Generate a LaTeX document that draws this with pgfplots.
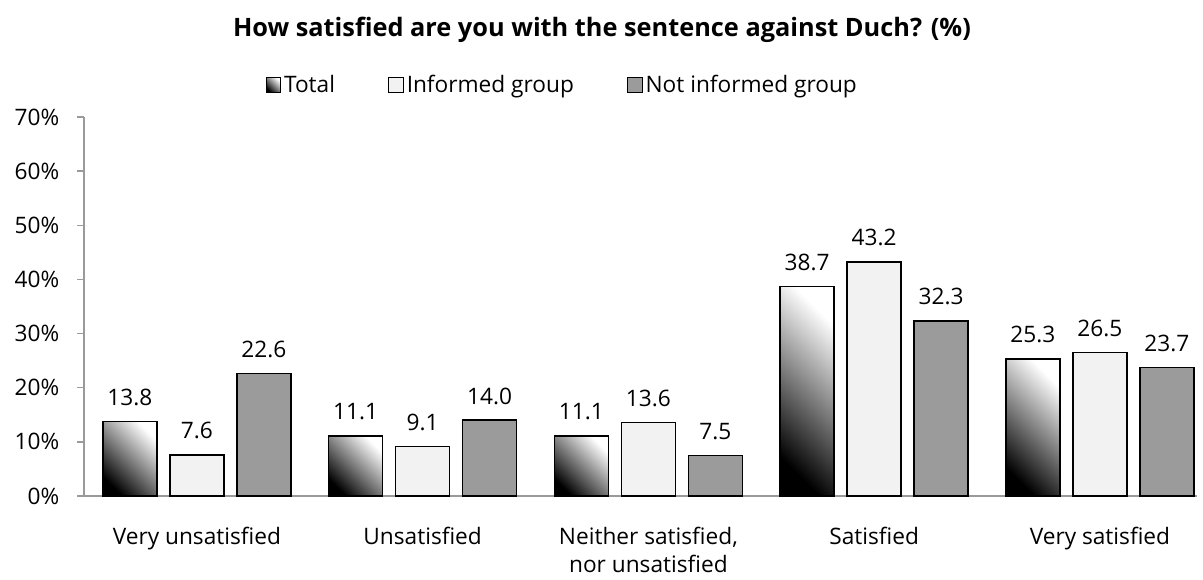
\documentclass[border=0pt]{standalone}
\usepackage{pgfplots}
\pgfplotsset{compat=1.18}
\usepackage{fontspec}
\setmainfont{Open Sans}
\definecolor{axgray}{HTML}{9A9A9A}
\definecolor{infcol}{HTML}{F2F2F2}
\definecolor{notcol}{HTML}{9B9B9B}
\begin{document}
\begin{tikzpicture}
\useasboundingbox (-63pt,-63pt) rectangle (839.25pt,372pt);
\begin{axis}[
  at={(0pt,0pt)}, anchor=south west,
  scale only axis, width=834.75pt, height=284.25pt,
  xmin=-0.5, xmax=4.43, ymin=0, ymax=70,
  axis lines*=left,
  axis line style={axgray, line width=1.1pt},
  every tick/.style={axgray, line width=1.1pt},
  tick align=outside,
  ytick={0,10,...,70},
  yticklabel={\pgfmathprintnumber{\tick}\%},
  major tick length=5pt,
  xtick={0,1,2,3,4},
  xticklabels={Very unsatisfied, Unsatisfied, {Neither satisfied,\\ nor unsatisfied}, Satisfied, Very satisfied},
  x tick style={draw=none},
  extra x ticks={-0.5,0.5,1.5,2.5,3.5},
  extra x tick labels={},
  extra x tick style={major tick length=6.5pt, tick style={axgray, line width=1.1pt}},
  xticklabel style={font=\fontsize{17pt}{21pt}\selectfont, align=center, yshift=-15pt, text depth=0pt},
  yticklabel style={font=\fontsize{17pt}{20pt}\selectfont, xshift=-10pt},
  /pgf/number format/assume math mode=true,
  ybar, bar width=40.5pt,
  nodes near coords,
  nodes near coords style={font=\fontsize{17pt}{20pt}\selectfont, yshift=8pt,
    /pgf/number format/fixed, /pgf/number format/fixed zerofill, /pgf/number format/precision=1, /pgf/number format/assume math mode=true},
  legend columns=3,
  legend style={at={(0.430,1.0844)}, anchor=center, draw=none, fill=none,
    font=\fontsize{17pt}{20pt}\selectfont,
    /tikz/every even column/.append style={column sep=38pt}},
  legend image code/.code={\draw[#1, line width=0.8pt] (0pt,-5.5pt) rectangle (11pt,5.5pt);},
  clip=false,
]
\addplot[draw=black, line width=1.1pt, bar shift=-50.25pt, bottom color=black, top color=white, shading angle=-45] coordinates {(0,13.8)};
\addplot[draw=black, line width=1.1pt, fill=infcol, bar shift=0pt] coordinates {(0,7.6) (1,9.1) (2,13.6) (3,43.2) (4,26.5)};
\addplot[draw=black, line width=1.1pt, fill=notcol, bar shift=50.25pt] coordinates {(0,22.6) (1,14.0) (2,7.5) (3,32.3) (4,23.7)};
\addplot[forget plot, draw=black, line width=1.1pt, bar shift=-50.25pt, bottom color=black, top color=white, shading angle=-45] coordinates {(1,11.1)};
\addplot[forget plot, draw=black, line width=1.1pt, bar shift=-50.25pt, bottom color=black, top color=white, shading angle=-45] coordinates {(2,11.1)};
\addplot[forget plot, draw=black, line width=1.1pt, bar shift=-50.25pt, bottom color=black, top color=white, shading angle=-45] coordinates {(3,38.7)};
\addplot[forget plot, draw=black, line width=1.1pt, bar shift=-50.25pt, bottom color=black, top color=white, shading angle=-45] coordinates {(4,25.3)};
\legend{Total, Informed group, Not informed group}
\node[font=\fontsize{19pt}{22pt}\selectfont\bfseries, anchor=center] at (rel axis cs:0.4654,1.2296) {How satisfied are you with the sentence against Duch? (\%)};
\end{axis}
\end{tikzpicture}
\end{document}
